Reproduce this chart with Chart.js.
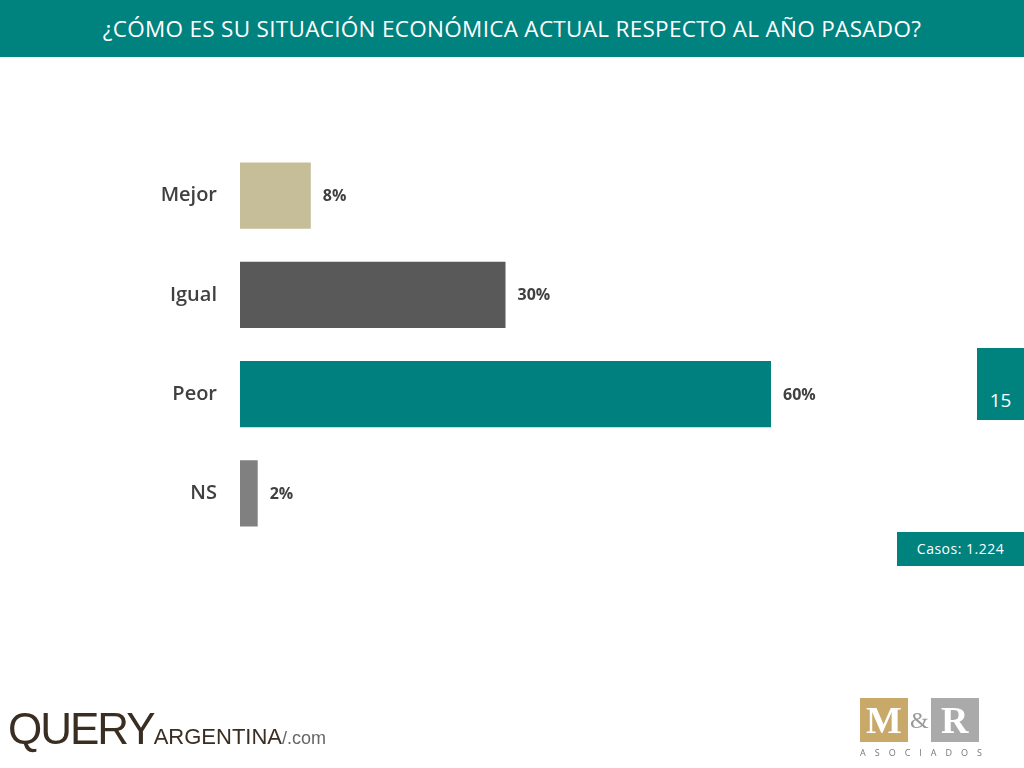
<!DOCTYPE html>
<html><head><meta charset="utf-8">
<script src="https://cdn.jsdelivr.net/npm/chart.js@4"></script>
<style>
body{margin:0;width:1024px;height:768px;position:relative;background:#fff;font-family:"Open Sans",Calibri,sans-serif;overflow:hidden}
#hdr{position:absolute;left:0;top:0;width:1024px;height:57px;background:#00827F;color:#fff;font-size:22.5px;text-align:center;line-height:57px;font-family:"Open Sans",sans-serif;letter-spacing:0.3px}
#c{position:absolute;left:0;top:0}
#pg{position:absolute;left:977px;top:348px;width:47px;height:72px;background:#00827F;color:#fff;font-size:19px;text-align:center;line-height:104px}
#cas{position:absolute;left:897px;top:532px;width:127px;height:34px;background:#00827F;color:#fff;font-size:14px;text-align:center;line-height:34px;letter-spacing:0.5px}
#q{position:absolute;left:8px;top:704px;font-family:"Liberation Sans",sans-serif;color:#3a2e22;}
#mr{position:absolute;left:860px;top:698px;}
</style></head><body>
<div id="hdr">¿CÓMO ES SU SITUACIÓN ECONÓMICA ACTUAL RESPECTO AL AÑO PASADO?</div>
<canvas id="c" width="1024" height="768"></canvas>
<div id="pg">15</div>
<div id="cas">Casos: 1.224</div>
<div id="q"><span style="font-size:44px;letter-spacing:-2px">QUERY</span><span style="font-size:22px">ARGENTINA</span><span style="font-size:18px;color:#666">/.com</span></div>
<div id="mr"><div style="display:flex;gap:2px"><div style="width:48px;height:44px;background:#C9A96A;color:#fff;font:bold 38px 'Liberation Serif';text-align:center;line-height:44px">M</div><div style="font:24px 'Liberation Serif';color:#999;line-height:44px">&amp;</div><div style="width:48px;height:44px;background:#aaa;color:#fff;font:bold 38px 'Liberation Serif';text-align:center;line-height:44px">R</div></div><div style="font-size:9px;letter-spacing:9px;color:#777;margin-top:4px">ASOCIADOS</div></div>
<script>
const categories=["Mejor","Igual","Peor","NS"];
const values=[8,30,60,2];
const colors=["#C5BE98","#595959","#00807E","#808080"];
const labelPlugin={id:"lbl",afterDatasetsDraw(ch){const ctx=ch.ctx;const m=ch.getDatasetMeta(0);ctx.save();ctx.textBaseline="middle";
m.data.forEach((b,i)=>{ctx.fillStyle="#404040";ctx.font="bold 16px 'Open Sans', sans-serif";ctx.textAlign="left";ctx.fillText(values[i]+"%",b.x+12,b.y+1);
ctx.font="600 20px 'Open Sans', sans-serif";ctx.textAlign="right";ctx.fillText(categories[i],217,b.y);});ctx.restore();}};
new Chart(document.getElementById("c"),{type:"bar",data:{labels:categories,datasets:[{data:values,backgroundColor:colors,barPercentage:0.665,categoryPercentage:1}]},
options:{indexAxis:"y",responsive:false,animation:false,layout:{padding:{left:240,right:76,top:146,bottom:225}},
plugins:{legend:{display:false},tooltip:{enabled:false}},
scales:{x:{min:0,max:80,display:false},y:{display:false}}},plugins:[labelPlugin]});
</script></body></html>
